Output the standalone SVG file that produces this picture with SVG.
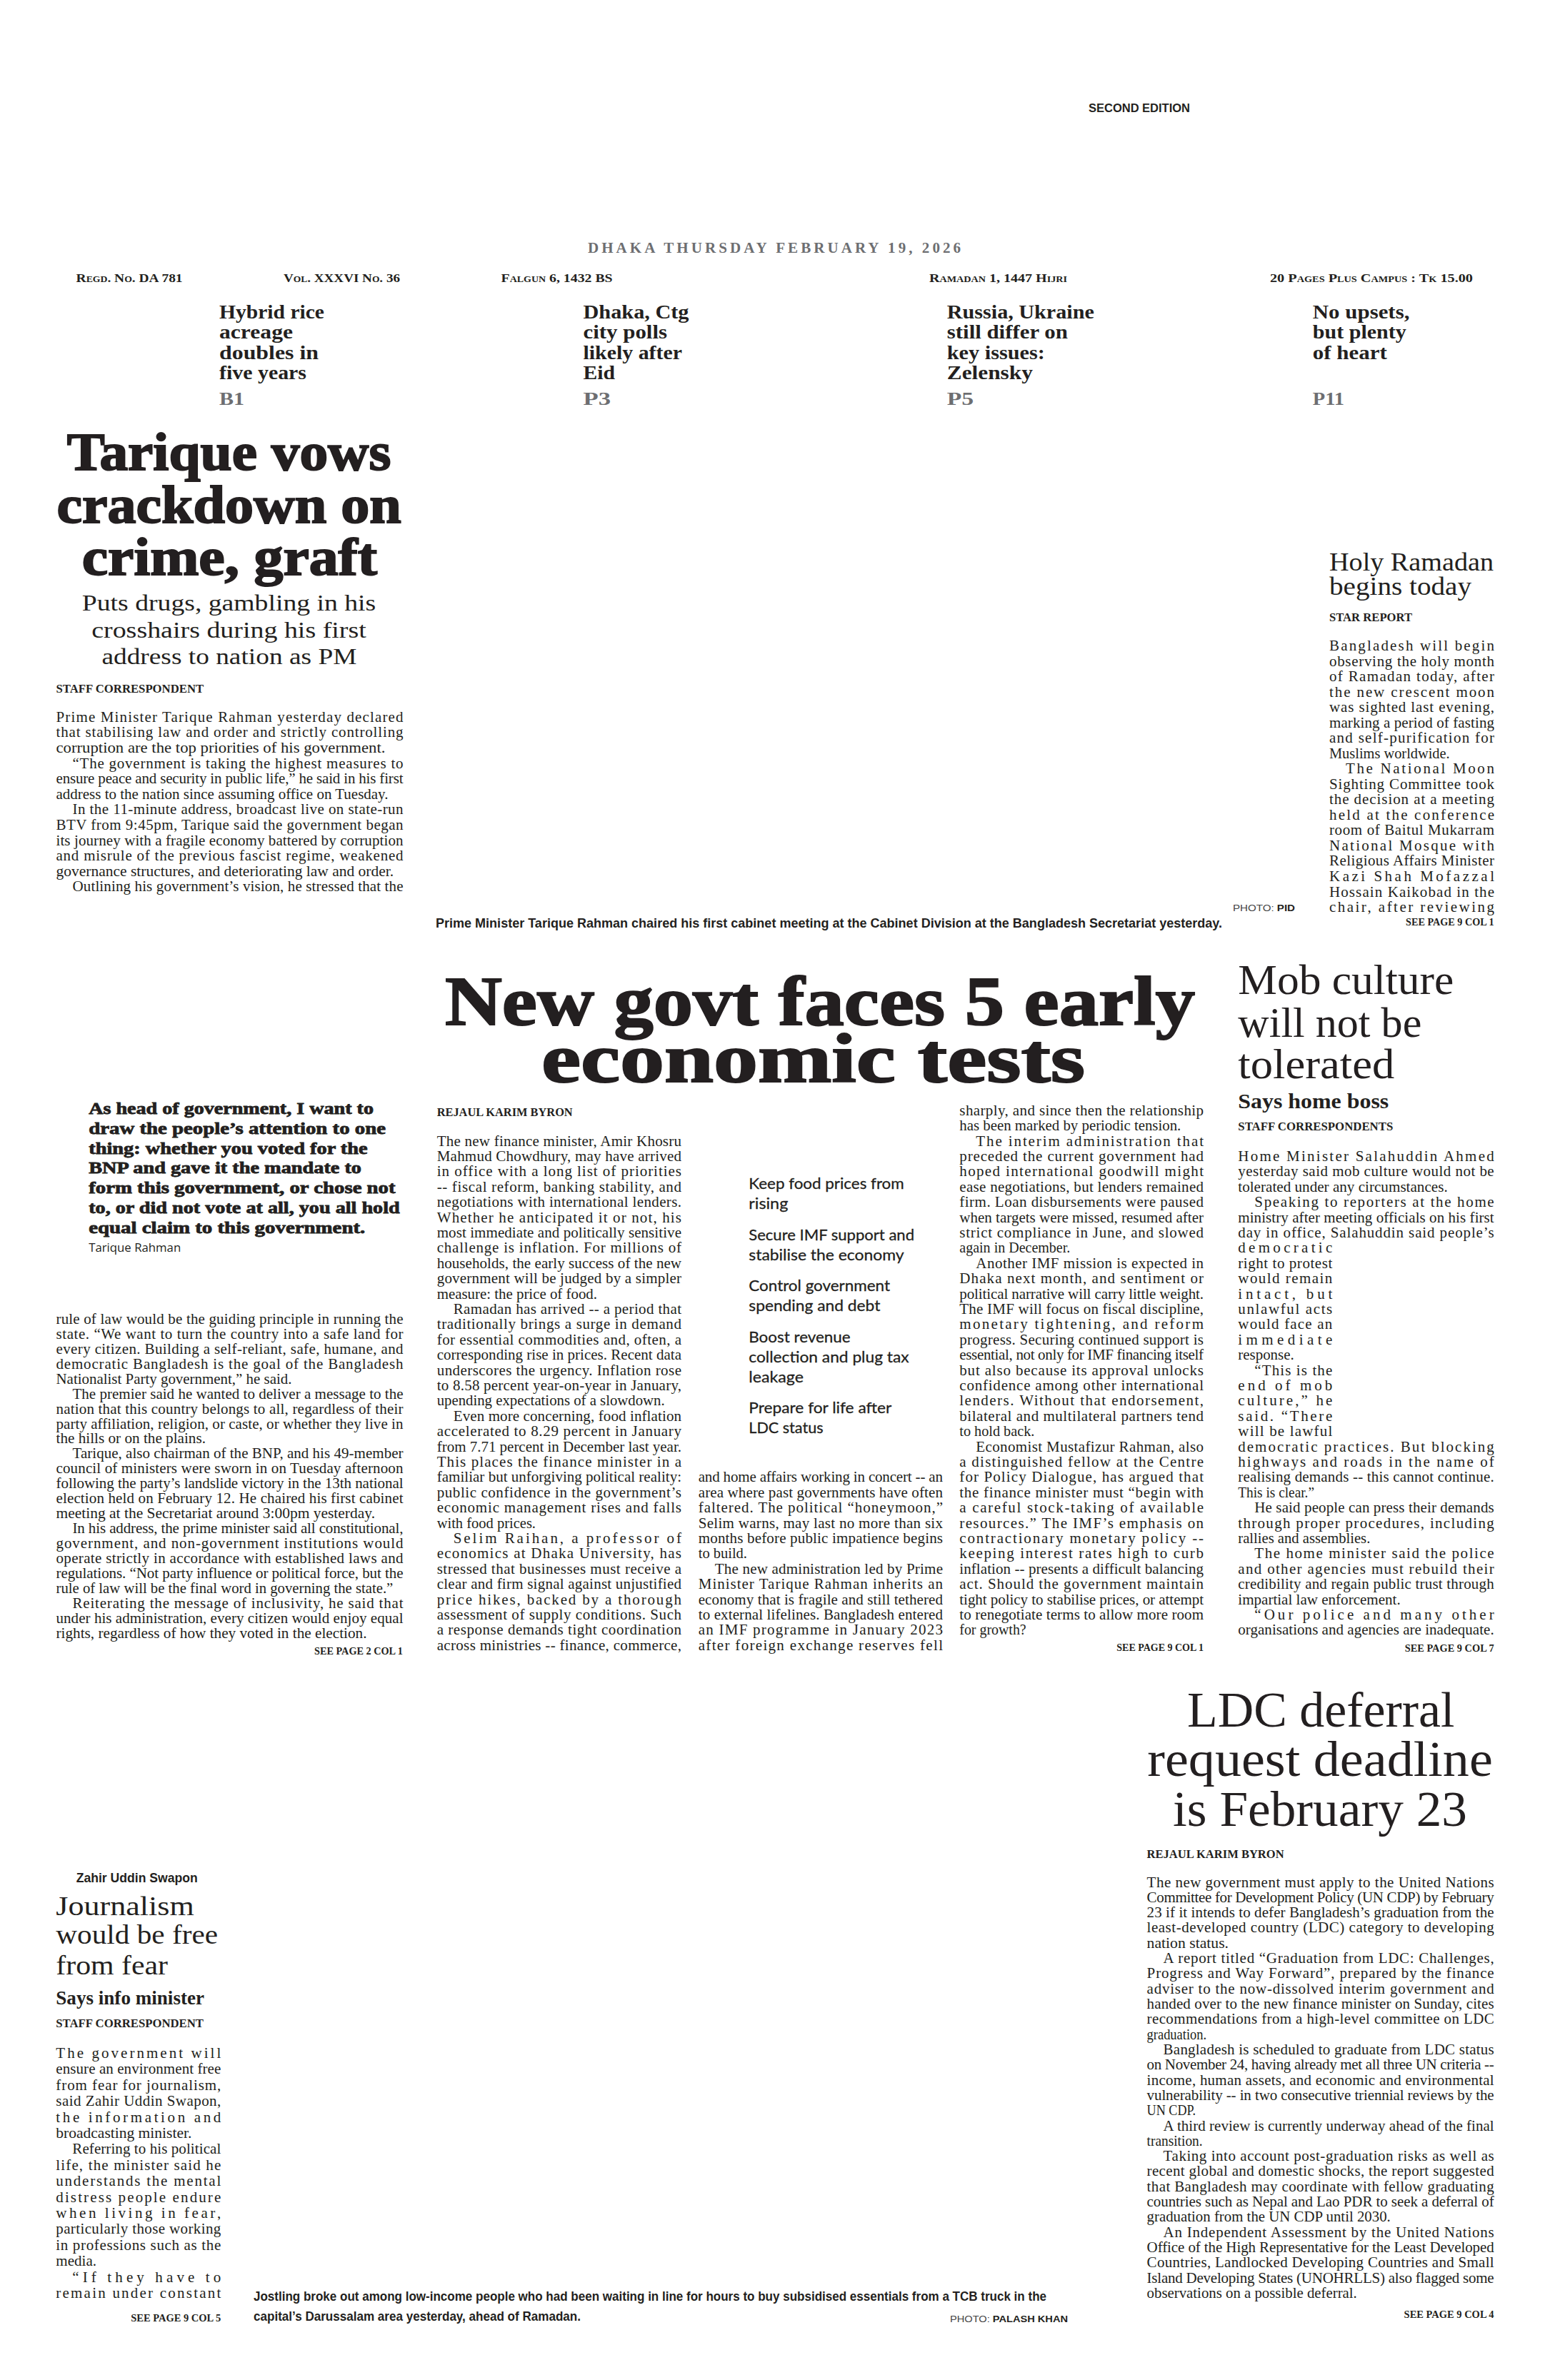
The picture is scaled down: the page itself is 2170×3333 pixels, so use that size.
<svg xmlns="http://www.w3.org/2000/svg" width="2170" height="3333" viewBox="0 0 2170 3333">
<style>
text{fill:#231f20}
.b{font-family:"Liberation Serif",serif;font-size:21px}
.by{font-family:"Liberation Serif",serif;font-weight:bold;font-size:16px}
.sp{font-family:"Liberation Serif",serif;font-weight:bold;font-size:15px}
.hh{font-family:"Liberation Serif",serif;font-weight:bold;stroke:#231f20;stroke-width:2}
.hl{font-family:"Liberation Serif",serif}
.hb{font-family:"Liberation Serif",serif;font-weight:bold}
.cap{font-family:"Liberation Sans",sans-serif;font-weight:bold;font-size:19px}
.ear{font-family:"Liberation Serif",serif;font-weight:bold;font-size:17px;font-variant:small-caps}
.tz{font-family:"Liberation Serif",serif;font-weight:bold;font-size:28px}
.pg{font-family:"Liberation Serif",serif;font-weight:bold;font-size:26px;fill:#6d6e71}
.bul{font-family:Lato,"Liberation Sans",sans-serif;font-size:22px;stroke:#231f20;stroke-width:0.3}
.q{font-family:"Liberation Serif",serif;font-weight:bold;font-size:23px;stroke:#231f20;stroke-width:0.8}
.cr{font-family:"Liberation Sans",sans-serif;font-size:13px;fill:#444}
</style>
<rect width="2170" height="3333" fill="#ffffff"/>

<g id="masthead">
<text x="1524" y="157" font-family="Liberation Sans" font-weight="bold" font-size="16" textLength="142" lengthAdjust="spacingAndGlyphs">SECOND EDITION</text>
<text x="823" y="354" font-family="Liberation Serif" font-weight="bold" font-size="21" style="fill:#6d6e71" textLength="522">DHAKA THURSDAY FEBRUARY 19, 2026</text>
<text class="ear" x="106.6" y="395" textLength="149" lengthAdjust="spacingAndGlyphs">Regd. No. DA 781</text>
<text class="ear" x="397" y="395" textLength="163" lengthAdjust="spacingAndGlyphs">Vol. XXXVI No. 36</text>
<text class="ear" x="701.6" y="395" textLength="156" lengthAdjust="spacingAndGlyphs">Falgun 6, 1432 BS</text>
<text class="ear" x="1301" y="395" textLength="193" lengthAdjust="spacingAndGlyphs">Ramadan 1, 1447 Hijri</text>
<text class="ear" x="1778" y="395" textLength="284" lengthAdjust="spacingAndGlyphs">20 Pages Plus Campus : Tk 15.00</text>
</g>

<g id="teaser-hybrid-rice">
<text class="tz" x="307" y="446" textLength="147" lengthAdjust="spacingAndGlyphs">Hybrid rice</text>
<text class="tz" x="307" y="474.3" textLength="103" lengthAdjust="spacingAndGlyphs">acreage</text>
<text class="tz" x="307" y="502.6" textLength="139" lengthAdjust="spacingAndGlyphs">doubles in</text>
<text class="tz" x="307" y="531" textLength="122" lengthAdjust="spacingAndGlyphs">five years</text>
<text class="pg" x="307" y="566.7" textLength="35" lengthAdjust="spacingAndGlyphs">B1</text>
</g>
<g id="teaser-city-polls">
<text class="tz" x="816.5" y="446" textLength="148" lengthAdjust="spacingAndGlyphs">Dhaka, Ctg</text>
<text class="tz" x="816.5" y="474.3" textLength="117.5" lengthAdjust="spacingAndGlyphs">city polls</text>
<text class="tz" x="816.5" y="502.6" textLength="138.5" lengthAdjust="spacingAndGlyphs">likely after</text>
<text class="tz" x="816.5" y="531" textLength="44.5" lengthAdjust="spacingAndGlyphs">Eid</text>
<text class="pg" x="816.5" y="566.7" textLength="38.5" lengthAdjust="spacingAndGlyphs">P3</text>
</g>
<g id="teaser-russia-ukraine">
<text class="tz" x="1325.8" y="446" textLength="206" lengthAdjust="spacingAndGlyphs">Russia, Ukraine</text>
<text class="tz" x="1325.8" y="474.3" textLength="169" lengthAdjust="spacingAndGlyphs">still differ on</text>
<text class="tz" x="1325.8" y="502.6" textLength="137" lengthAdjust="spacingAndGlyphs">key issues:</text>
<text class="tz" x="1325.8" y="531" textLength="120" lengthAdjust="spacingAndGlyphs">Zelensky</text>
<text class="pg" x="1325.8" y="566.7" textLength="37.4" lengthAdjust="spacingAndGlyphs">P5</text>
</g>
<g id="teaser-no-upsets">
<text class="tz" x="1837.8" y="446" textLength="135.6" lengthAdjust="spacingAndGlyphs">No upsets,</text>
<text class="tz" x="1837.8" y="474.3" textLength="131" lengthAdjust="spacingAndGlyphs">but plenty</text>
<text class="tz" x="1837.8" y="502.6" textLength="104" lengthAdjust="spacingAndGlyphs">of heart</text>
<text class="pg" x="1837.8" y="566.7" textLength="44.3" lengthAdjust="spacingAndGlyphs">P11</text>
</g>

<g id="lead-story">
<text class="hh" font-size="74" x="93.8" y="658" textLength="453.5" lengthAdjust="spacingAndGlyphs">Tarique vows</text>
<text class="hh" font-size="74" x="79.6" y="732" textLength="482.2" lengthAdjust="spacingAndGlyphs">crackdown on</text>
<text class="hh" font-size="74" x="114.8" y="805" textLength="413.3" lengthAdjust="spacingAndGlyphs">crime, graft</text>
<text class="hl" font-size="31" x="114.8" y="854.5" textLength="411.4" lengthAdjust="spacingAndGlyphs">Puts drugs, gambling in his</text>
<text class="hl" font-size="31" x="128.2" y="892.5" textLength="384.6" lengthAdjust="spacingAndGlyphs">crosshairs during his first</text>
<text class="hl" font-size="31" x="142.4" y="930" textLength="357" lengthAdjust="spacingAndGlyphs">address to nation as PM</text>
<text class="by" x="78.5" y="969.7" textLength="206.6" lengthAdjust="spacingAndGlyphs">STAFF CORRESPONDENT</text>
<text class="b" x="78.5" y="1010.8" textLength="486">Prime Minister Tarique Rahman yesterday declared</text>
<text class="b" x="78.5" y="1032.4" textLength="486">that stabilising law and order and strictly controlling</text>
<text class="b" x="78.5" y="1054" textLength="461" lengthAdjust="spacingAndGlyphs">corruption are the top priorities of his government.</text>
<text class="b" x="101.5" y="1075.6" textLength="463">“The government is taking the highest measures to</text>
<text class="b" x="78.5" y="1097.2" textLength="486">ensure peace and security in public life,” he said in his first</text>
<text class="b" x="78.5" y="1118.8" textLength="465" lengthAdjust="spacingAndGlyphs">address to the nation since assuming office on Tuesday.</text>
<text class="b" x="101.5" y="1140.4" textLength="463">In the 11-minute address, broadcast live on state-run</text>
<text class="b" x="78.5" y="1162" textLength="486">BTV from 9:45pm, Tarique said the government began</text>
<text class="b" x="78.5" y="1183.6" textLength="486">its journey with a fragile economy battered by corruption</text>
<text class="b" x="78.5" y="1205.2" textLength="486">and misrule of the previous fascist regime, weakened</text>
<text class="b" x="78.5" y="1226.8" textLength="472.6" lengthAdjust="spacingAndGlyphs">governance structures, and deteriorating law and order.</text>
<text class="b" x="101.5" y="1248.4" textLength="463">Outlining his government’s vision, he stressed that the</text>
</g>

<g id="lead-quote">
<text class="q" x="124.2" y="1559.9" textLength="398.8" lengthAdjust="spacingAndGlyphs">As head of government, I want to</text>
<text class="q" x="124.2" y="1587.7" textLength="415.8" lengthAdjust="spacingAndGlyphs">draw the people’s attention to one</text>
<text class="q" x="124.2" y="1615.5" textLength="390.5" lengthAdjust="spacingAndGlyphs">thing: whether you voted for the</text>
<text class="q" x="124.2" y="1643.3" textLength="381.8" lengthAdjust="spacingAndGlyphs">BNP and gave it the mandate to</text>
<text class="q" x="124.2" y="1671.1" textLength="429.4" lengthAdjust="spacingAndGlyphs">form this government, or chose not</text>
<text class="q" x="124.2" y="1698.9" textLength="435.5" lengthAdjust="spacingAndGlyphs">to, or did not vote at all, you all hold</text>
<text class="q" x="124.2" y="1726.7" textLength="387.1" lengthAdjust="spacingAndGlyphs">equal claim to this government.</text>
<text x="124.2" y="1753" font-family="Open Sans" font-size="17" textLength="129" lengthAdjust="spacingAndGlyphs">Tarique Rahman</text>
</g>

<g id="lead-story-continued">
<text class="b" x="78.5" y="1854" textLength="486">rule of law would be the guiding principle in running the</text>
<text class="b" x="78.5" y="1874.9" textLength="486">state. “We want to turn the country into a safe land for</text>
<text class="b" x="78.5" y="1895.9" textLength="486">every citizen. Building a self-reliant, safe, humane, and</text>
<text class="b" x="78.5" y="1916.8" textLength="486">democratic Bangladesh is the goal of the Bangladesh</text>
<text class="b" x="78.5" y="1937.7" textLength="330" lengthAdjust="spacingAndGlyphs">Nationalist Party government,” he said.</text>
<text class="b" x="101.5" y="1958.7" textLength="463">The premier said he wanted to deliver a message to the</text>
<text class="b" x="78.5" y="1979.6" textLength="486">nation that this country belongs to all, regardless of their</text>
<text class="b" x="78.5" y="2000.5" textLength="486">party affiliation, religion, or caste, or whether they live in</text>
<text class="b" x="78.5" y="2021.4" textLength="209.5" lengthAdjust="spacingAndGlyphs">the hills or on the plains.</text>
<text class="b" x="101.5" y="2042.4" textLength="463">Tarique, also chairman of the BNP, and his 49-member</text>
<text class="b" x="78.5" y="2063.3" textLength="486">council of ministers were sworn in on Tuesday afternoon</text>
<text class="b" x="78.5" y="2084.2" textLength="486">following the party’s landslide victory in the 13th national</text>
<text class="b" x="78.5" y="2105.2" textLength="486">election held on February 12. He chaired his first cabinet</text>
<text class="b" x="78.5" y="2126.1" textLength="446.5" lengthAdjust="spacingAndGlyphs">meeting at the Secretariat around 3:00pm yesterday.</text>
<text class="b" x="101.5" y="2147" textLength="463">In his address, the prime minister said all constitutional,</text>
<text class="b" x="78.5" y="2167.9" textLength="486">government, and non-government institutions would</text>
<text class="b" x="78.5" y="2188.9" textLength="486">operate strictly in accordance with established laws and</text>
<text class="b" x="78.5" y="2209.8" textLength="486">regulations. “Not party influence or political force, but the</text>
<text class="b" x="78.5" y="2230.7" textLength="471.8" lengthAdjust="spacingAndGlyphs">rule of law will be the final word in governing the state.”</text>
<text class="b" x="101.5" y="2251.7" textLength="463">Reiterating the message of inclusivity, he said that</text>
<text class="b" x="78.5" y="2272.6" textLength="486">under his administration, every citizen would enjoy equal</text>
<text class="b" x="78.5" y="2293.5" textLength="435" lengthAdjust="spacingAndGlyphs">rights, regardless of how they voted in the election.</text>
<text class="sp" x="440" y="2317" textLength="124" lengthAdjust="spacingAndGlyphs">SEE PAGE 2 COL 1</text>
</g>

<g id="ramadan-story">
<text class="hl" font-size="35" x="1861" y="799.3" textLength="230" lengthAdjust="spacingAndGlyphs">Holy Ramadan</text>
<text class="hl" font-size="35" x="1861" y="832.6" textLength="199" lengthAdjust="spacingAndGlyphs">begins today</text>
<text class="by" x="1861" y="869.6" textLength="116" lengthAdjust="spacingAndGlyphs">STAR REPORT</text>
<text class="b" x="1861" y="911" textLength="231">Bangladesh will begin</text>
<text class="b" x="1861" y="932.5" textLength="231">observing the holy month</text>
<text class="b" x="1861" y="954.1" textLength="231">of Ramadan today, after</text>
<text class="b" x="1861" y="975.6" textLength="231">the new crescent moon</text>
<text class="b" x="1861" y="997.1" textLength="231">was sighted last evening,</text>
<text class="b" x="1861" y="1018.7" textLength="231">marking a period of fasting</text>
<text class="b" x="1861" y="1040.2" textLength="231">and self-purification for</text>
<text class="b" x="1861" y="1061.7" textLength="168.7" lengthAdjust="spacingAndGlyphs">Muslims worldwide.</text>
<text class="b" x="1884" y="1083.2" textLength="208">The National Moon</text>
<text class="b" x="1861" y="1104.8" textLength="231">Sighting Committee took</text>
<text class="b" x="1861" y="1126.3" textLength="231">the decision at a meeting</text>
<text class="b" x="1861" y="1147.8" textLength="231">held at the conference</text>
<text class="b" x="1861" y="1169.4" textLength="231">room of Baitul Mukarram</text>
<text class="b" x="1861" y="1190.9" textLength="231">National Mosque with</text>
<text class="b" x="1861" y="1212.4" textLength="231">Religious Affairs Minister</text>
<text class="b" x="1861" y="1234" textLength="231">Kazi Shah Mofazzal</text>
<text class="b" x="1861" y="1255.5" textLength="231">Hossain Kaikobad in the</text>
<text class="b" x="1861" y="1277" textLength="231">chair, after reviewing</text>
<text class="sp" x="1968" y="1295.6" textLength="123.7" lengthAdjust="spacingAndGlyphs">SEE PAGE 9 COL 1</text>
</g>

<g id="cabinet-photo-caption">
<text class="cr" x="1726" y="1276" textLength="87" lengthAdjust="spacingAndGlyphs">PHOTO: <tspan font-weight="bold" style="fill:#231f20">PID</tspan></text>
<text class="cap" x="610" y="1299" textLength="1101" lengthAdjust="spacingAndGlyphs">Prime Minister Tarique Rahman chaired his first cabinet meeting at the Cabinet Division at the Bangladesh Secretariat yesterday.</text>
</g>

<g id="economy-story">
<text class="hh" font-size="98" x="623" y="1435" textLength="1050" lengthAdjust="spacingAndGlyphs">New govt faces 5 early</text>
<text class="hh" font-size="98" x="758" y="1515" textLength="761" lengthAdjust="spacingAndGlyphs">economic tests</text>
<text class="by" x="611.7" y="1562.7" textLength="190" lengthAdjust="spacingAndGlyphs">REJAUL KARIM BYRON</text>
<text class="b" x="611.7" y="1604.5" textLength="342.3">The new finance minister, Amir Khosru</text>
<text class="b" x="611.7" y="1625.9" textLength="342.3">Mahmud Chowdhury, may have arrived</text>
<text class="b" x="611.7" y="1647.3" textLength="342.3">in office with a long list of priorities</text>
<text class="b" x="611.7" y="1668.7" textLength="342.3">-- fiscal reform, banking stability, and</text>
<text class="b" x="611.7" y="1690.1" textLength="342.3">negotiations with international lenders.</text>
<text class="b" x="611.7" y="1711.5" textLength="342.3">Whether he anticipated it or not, his</text>
<text class="b" x="611.7" y="1732.9" textLength="342.3">most immediate and politically sensitive</text>
<text class="b" x="611.7" y="1754.3" textLength="342.3">challenge is inflation. For millions of</text>
<text class="b" x="611.7" y="1775.7" textLength="342.3">households, the early success of the new</text>
<text class="b" x="611.7" y="1797.1" textLength="342.3">government will be judged by a simpler</text>
<text class="b" x="611.7" y="1818.5" textLength="224.3" lengthAdjust="spacingAndGlyphs">measure: the price of food.</text>
<text class="b" x="634.7" y="1839.9" textLength="319.3">Ramadan has arrived -- a period that</text>
<text class="b" x="611.7" y="1861.3" textLength="342.3">traditionally brings a surge in demand</text>
<text class="b" x="611.7" y="1882.7" textLength="342.3">for essential commodities and, often, a</text>
<text class="b" x="611.7" y="1904.1" textLength="342.3">corresponding rise in prices. Recent data</text>
<text class="b" x="611.7" y="1925.5" textLength="342.3">underscores the urgency. Inflation rose</text>
<text class="b" x="611.7" y="1946.9" textLength="342.3">to 8.58 percent year-on-year in January,</text>
<text class="b" x="611.7" y="1968.3" textLength="319" lengthAdjust="spacingAndGlyphs">upending expectations of a slowdown.</text>
<text class="b" x="634.7" y="1989.7" textLength="319.3">Even more concerning, food inflation</text>
<text class="b" x="611.7" y="2011.1" textLength="342.3">accelerated to 8.29 percent in January</text>
<text class="b" x="611.7" y="2032.5" textLength="342.3">from 7.71 percent in December last year.</text>
<text class="b" x="611.7" y="2053.9" textLength="342.3">This places the finance minister in a</text>
<text class="b" x="611.7" y="2075.3" textLength="342.3">familiar but unforgiving political reality:</text>
<text class="b" x="611.7" y="2096.7" textLength="342.3">public confidence in the government’s</text>
<text class="b" x="611.7" y="2118.1" textLength="342.3">economic management rises and falls</text>
<text class="b" x="611.7" y="2139.5" textLength="138.3" lengthAdjust="spacingAndGlyphs">with food prices.</text>
<text class="b" x="634.7" y="2160.9" textLength="319.3">Selim Raihan, a professor of</text>
<text class="b" x="611.7" y="2182.3" textLength="342.3">economics at Dhaka University, has</text>
<text class="b" x="611.7" y="2203.7" textLength="342.3">stressed that businesses must receive a</text>
<text class="b" x="611.7" y="2225.1" textLength="342.3">clear and firm signal against unjustified</text>
<text class="b" x="611.7" y="2246.5" textLength="342.3">price hikes, backed by a thorough</text>
<text class="b" x="611.7" y="2267.9" textLength="342.3">assessment of supply conditions. Such</text>
<text class="b" x="611.7" y="2289.3" textLength="342.3">a response demands tight coordination</text>
<text class="b" x="611.7" y="2310.7" textLength="342.3">across ministries -- finance, commerce,</text>

<text class="b" x="977.7" y="2075.3" textLength="342.3">and home affairs working in concert -- an</text>
<text class="b" x="977.7" y="2096.7" textLength="342.3">area where past governments have often</text>
<text class="b" x="977.7" y="2118.1" textLength="342.3">faltered. The political “honeymoon,”</text>
<text class="b" x="977.7" y="2139.5" textLength="342.3">Selim warns, may last no more than six</text>
<text class="b" x="977.7" y="2160.9" textLength="342.3">months before public impatience begins</text>
<text class="b" x="977.7" y="2182.3" textLength="68.3" lengthAdjust="spacingAndGlyphs">to build.</text>
<text class="b" x="1000.7" y="2203.7" textLength="319.3">The new administration led by Prime</text>
<text class="b" x="977.7" y="2225.1" textLength="342.3">Minister Tarique Rahman inherits an</text>
<text class="b" x="977.7" y="2246.5" textLength="342.3">economy that is fragile and still tethered</text>
<text class="b" x="977.7" y="2267.9" textLength="342.3">to external lifelines. Bangladesh entered</text>
<text class="b" x="977.7" y="2289.3" textLength="342.3">an IMF programme in January 2023</text>
<text class="b" x="977.7" y="2310.7" textLength="342.3">after foreign exchange reserves fell</text>

<text class="b" x="1343.3" y="1561.7" textLength="341.7">sharply, and since then the relationship</text>
<text class="b" x="1343.3" y="1583.1" textLength="310" lengthAdjust="spacingAndGlyphs">has been marked by periodic tension.</text>
<text class="b" x="1366.3" y="1604.5" textLength="318.7">The interim administration that</text>
<text class="b" x="1343.3" y="1625.9" textLength="341.7">preceded the current government had</text>
<text class="b" x="1343.3" y="1647.3" textLength="341.7">hoped international goodwill might</text>
<text class="b" x="1343.3" y="1668.7" textLength="341.7">ease negotiations, but lenders remained</text>
<text class="b" x="1343.3" y="1690.1" textLength="341.7">firm. Loan disbursements were paused</text>
<text class="b" x="1343.3" y="1711.5" textLength="341.7">when targets were missed, resumed after</text>
<text class="b" x="1343.3" y="1732.9" textLength="341.7">strict compliance in June, and slowed</text>
<text class="b" x="1343.3" y="1754.3" textLength="155" lengthAdjust="spacingAndGlyphs">again in December.</text>
<text class="b" x="1366.3" y="1775.7" textLength="318.7">Another IMF mission is expected in</text>
<text class="b" x="1343.3" y="1797.1" textLength="341.7">Dhaka next month, and sentiment or</text>
<text class="b" x="1343.3" y="1818.5" textLength="341.7">political narrative will carry little weight.</text>
<text class="b" x="1343.3" y="1839.9" textLength="341.7">The IMF will focus on fiscal discipline,</text>
<text class="b" x="1343.3" y="1861.3" textLength="341.7">monetary tightening, and reform</text>
<text class="b" x="1343.3" y="1882.7" textLength="341.7">progress. Securing continued support is</text>
<text class="b" x="1343.3" y="1904.1" textLength="341.7">essential, not only for IMF financing itself</text>
<text class="b" x="1343.3" y="1925.5" textLength="341.7">but also because its approval unlocks</text>
<text class="b" x="1343.3" y="1946.9" textLength="341.7">confidence among other international</text>
<text class="b" x="1343.3" y="1968.3" textLength="341.7">lenders. Without that endorsement,</text>
<text class="b" x="1343.3" y="1989.7" textLength="341.7">bilateral and multilateral partners tend</text>
<text class="b" x="1343.3" y="2011.1" textLength="105" lengthAdjust="spacingAndGlyphs">to hold back.</text>
<text class="b" x="1366.3" y="2032.5" textLength="318.7">Economist Mustafizur Rahman, also</text>
<text class="b" x="1343.3" y="2053.9" textLength="341.7">a distinguished fellow at the Centre</text>
<text class="b" x="1343.3" y="2075.3" textLength="341.7">for Policy Dialogue, has argued that</text>
<text class="b" x="1343.3" y="2096.7" textLength="341.7">the finance minister must “begin with</text>
<text class="b" x="1343.3" y="2118.1" textLength="341.7">a careful stock-taking of available</text>
<text class="b" x="1343.3" y="2139.5" textLength="341.7">resources.” The IMF’s emphasis on</text>
<text class="b" x="1343.3" y="2160.9" textLength="341.7">contractionary monetary policy --</text>
<text class="b" x="1343.3" y="2182.3" textLength="341.7">keeping interest rates high to curb</text>
<text class="b" x="1343.3" y="2203.7" textLength="341.7">inflation -- presents a difficult balancing</text>
<text class="b" x="1343.3" y="2225.1" textLength="341.7">act. Should the government maintain</text>
<text class="b" x="1343.3" y="2246.5" textLength="341.7">tight policy to stabilise prices, or attempt</text>
<text class="b" x="1343.3" y="2267.9" textLength="341.7">to renegotiate terms to allow more room</text>
<text class="b" x="1343.3" y="2289.3" textLength="93.4" lengthAdjust="spacingAndGlyphs">for growth?</text>
<text class="sp" x="1563.3" y="2312" textLength="121.7" lengthAdjust="spacingAndGlyphs">SEE PAGE 9 COL 1</text>
</g>

<g id="five-tests-list">
<text class="bul" x="1048.3" y="1665.2" textLength="217.4" lengthAdjust="spacingAndGlyphs">Keep food prices from</text>
<text class="bul" x="1048.3" y="1693.3" textLength="55" lengthAdjust="spacingAndGlyphs">rising</text>
<text class="bul" x="1048.3" y="1736.6" textLength="231.7" lengthAdjust="spacingAndGlyphs">Secure IMF support and</text>
<text class="bul" x="1048.3" y="1764.7" textLength="217.3" lengthAdjust="spacingAndGlyphs">stabilise the economy</text>
<text class="bul" x="1048.3" y="1808" textLength="197.7" lengthAdjust="spacingAndGlyphs">Control government</text>
<text class="bul" x="1048.3" y="1836" textLength="184" lengthAdjust="spacingAndGlyphs">spending and debt</text>
<text class="bul" x="1048.3" y="1879.5" textLength="142.3" lengthAdjust="spacingAndGlyphs">Boost revenue</text>
<text class="bul" x="1048.3" y="1907.6" textLength="224.3" lengthAdjust="spacingAndGlyphs">collection and plug tax</text>
<text class="bul" x="1048.3" y="1935.6" textLength="76.7" lengthAdjust="spacingAndGlyphs">leakage</text>
<text class="bul" x="1048.3" y="1979" textLength="200" lengthAdjust="spacingAndGlyphs">Prepare for life after</text>
<text class="bul" x="1048.3" y="2007" textLength="104.3" lengthAdjust="spacingAndGlyphs">LDC status</text>
</g>

<g id="mob-culture-story">
<text class="hl" font-size="60" x="1733.3" y="1392" textLength="302" lengthAdjust="spacingAndGlyphs">Mob culture</text>
<text class="hl" font-size="60" x="1733.3" y="1452" textLength="257" lengthAdjust="spacingAndGlyphs">will not be</text>
<text class="hl" font-size="60" x="1733.3" y="1510" textLength="219" lengthAdjust="spacingAndGlyphs">tolerated</text>
<text class="hb" font-size="30" x="1733.3" y="1552" textLength="211" lengthAdjust="spacingAndGlyphs">Says home boss</text>
<text class="by" x="1733.3" y="1582.8" textLength="217" lengthAdjust="spacingAndGlyphs">STAFF CORRESPONDENTS</text>
<text class="b" x="1733.3" y="1625.9" textLength="358.4">Home Minister Salahuddin Ahmed</text>
<text class="b" x="1733.3" y="1647.3" textLength="358.4">yesterday said mob culture would not be</text>
<text class="b" x="1733.3" y="1668.7" textLength="293.4" lengthAdjust="spacingAndGlyphs">tolerated under any circumstances.</text>
<text class="b" x="1756.3" y="1690.1" textLength="335.4">Speaking to reporters at the home</text>
<text class="b" x="1733.3" y="1711.5" textLength="358.4">ministry after meeting officials on his first</text>
<text class="b" x="1733.3" y="1732.9" textLength="358.4">day in office, Salahuddin said people’s</text>
<text class="b" x="1733.3" y="1754.3" textLength="132">democratic</text>
<text class="b" x="1733.3" y="1775.7" textLength="132">right to protest</text>
<text class="b" x="1733.3" y="1797.1" textLength="132">would remain</text>
<text class="b" x="1733.3" y="1818.5" textLength="132">intact, but</text>
<text class="b" x="1733.3" y="1839.9" textLength="132">unlawful acts</text>
<text class="b" x="1733.3" y="1861.3" textLength="132">would face an</text>
<text class="b" x="1733.3" y="1882.7" textLength="132">immediate</text>
<text class="b" x="1733.3" y="1904.1" textLength="78.4" lengthAdjust="spacingAndGlyphs">response.</text>
<text class="b" x="1756.3" y="1925.5" textLength="109">“This is the</text>
<text class="b" x="1733.3" y="1946.9" textLength="132">end of mob</text>
<text class="b" x="1733.3" y="1968.3" textLength="132">culture,” he</text>
<text class="b" x="1733.3" y="1989.7" textLength="132">said. “There</text>
<text class="b" x="1733.3" y="2011.1" textLength="132">will be lawful</text>
<text class="b" x="1733.3" y="2032.5" textLength="358.4">democratic practices. But blocking</text>
<text class="b" x="1733.3" y="2053.9" textLength="358.4">highways and roads in the name of</text>
<text class="b" x="1733.3" y="2075.3" textLength="358.4">realising demands -- this cannot continue.</text>
<text class="b" x="1733.3" y="2096.7" textLength="106.7" lengthAdjust="spacingAndGlyphs">This is clear.”</text>
<text class="b" x="1756.3" y="2118.1" textLength="335.4">He said people can press their demands</text>
<text class="b" x="1733.3" y="2139.5" textLength="358.4">through proper procedures, including</text>
<text class="b" x="1733.3" y="2160.9" textLength="185" lengthAdjust="spacingAndGlyphs">rallies and assemblies.</text>
<text class="b" x="1756.3" y="2182.3" textLength="335.4">The home minister said the police</text>
<text class="b" x="1733.3" y="2203.7" textLength="358.4">and other agencies must rebuild their</text>
<text class="b" x="1733.3" y="2225.1" textLength="358.4">credibility and regain public trust through</text>
<text class="b" x="1733.3" y="2246.5" textLength="227.4" lengthAdjust="spacingAndGlyphs">impartial law enforcement.</text>
<text class="b" x="1756.3" y="2267.9" textLength="335.4">“Our police and many other</text>
<text class="b" x="1733.3" y="2289.3" textLength="358.4">organisations and agencies are inadequate.</text>
<text class="sp" x="1966.7" y="2313" textLength="125" lengthAdjust="spacingAndGlyphs">SEE PAGE 9 COL 7</text>
</g>

<g id="ldc-story">
<text class="hl" font-size="70" x="1662" y="2418.3" textLength="374.4" lengthAdjust="spacingAndGlyphs">LDC deferral</text>
<text class="hl" font-size="70" x="1606.3" y="2487.1" textLength="483.5" lengthAdjust="spacingAndGlyphs">request deadline</text>
<text class="hl" font-size="70" x="1642" y="2556.5" textLength="412" lengthAdjust="spacingAndGlyphs">is February 23</text>
<text class="by" x="1605.6" y="2602.2" textLength="192" lengthAdjust="spacingAndGlyphs">REJAUL KARIM BYRON</text>
<text class="b" x="1605.6" y="2642.5" textLength="486.1">The new government must apply to the United Nations</text>
<text class="b" x="1605.6" y="2663.8" textLength="486.1">Committee for Development Policy (UN CDP) by February</text>
<text class="b" x="1605.6" y="2685.1" textLength="486.1">23 if it intends to defer Bangladesh’s graduation from the</text>
<text class="b" x="1605.6" y="2706.4" textLength="486.1">least-developed country (LDC) category to developing</text>
<text class="b" x="1605.6" y="2727.7" textLength="114.4" lengthAdjust="spacingAndGlyphs">nation status.</text>
<text class="b" x="1628.6" y="2749.1" textLength="463.1">A report titled “Graduation from LDC: Challenges,</text>
<text class="b" x="1605.6" y="2770.4" textLength="486.1">Progress and Way Forward”, prepared by the finance</text>
<text class="b" x="1605.6" y="2791.7" textLength="486.1">adviser to the now-dissolved interim government and</text>
<text class="b" x="1605.6" y="2813" textLength="486.1">handed over to the new finance minister on Sunday, cites</text>
<text class="b" x="1605.6" y="2834.3" textLength="486.1">recommendations from a high-level committee on LDC</text>
<text class="b" x="1605.6" y="2855.6" textLength="83.5" lengthAdjust="spacingAndGlyphs">graduation.</text>
<text class="b" x="1628.6" y="2876.9" textLength="463.1">Bangladesh is scheduled to graduate from LDC status</text>
<text class="b" x="1605.6" y="2898.2" textLength="486.1">on November 24, having already met all three UN criteria --</text>
<text class="b" x="1605.6" y="2919.5" textLength="486.1">income, human assets, and economic and environmental</text>
<text class="b" x="1605.6" y="2940.8" textLength="486.1">vulnerability -- in two consecutive triennial reviews by the</text>
<text class="b" x="1605.6" y="2962.2" textLength="68.5" lengthAdjust="spacingAndGlyphs">UN CDP.</text>
<text class="b" x="1628.6" y="2983.5" textLength="463.1">A third review is currently underway ahead of the final</text>
<text class="b" x="1605.6" y="3004.8" textLength="78" lengthAdjust="spacingAndGlyphs">transition.</text>
<text class="b" x="1628.6" y="3026.1" textLength="463.1">Taking into account post-graduation risks as well as</text>
<text class="b" x="1605.6" y="3047.4" textLength="486.1">recent global and domestic shocks, the report suggested</text>
<text class="b" x="1605.6" y="3068.7" textLength="486.1">that Bangladesh may coordinate with fellow graduating</text>
<text class="b" x="1605.6" y="3090" textLength="486.1">countries such as Nepal and Lao PDR to seek a deferral of</text>
<text class="b" x="1605.6" y="3111.3" textLength="341.2" lengthAdjust="spacingAndGlyphs">graduation from the UN CDP until 2030.</text>
<text class="b" x="1628.6" y="3132.6" textLength="463.1">An Independent Assessment by the United Nations</text>
<text class="b" x="1605.6" y="3153.9" textLength="486.1">Office of the High Representative for the Least Developed</text>
<text class="b" x="1605.6" y="3175.3" textLength="486.1">Countries, Landlocked Developing Countries and Small</text>
<text class="b" x="1605.6" y="3196.6" textLength="486.1">Island Developing States (UNOHRLLS) also flagged some</text>
<text class="b" x="1605.6" y="3217.9" textLength="294.2" lengthAdjust="spacingAndGlyphs">observations on a possible deferral.</text>
<text class="sp" x="1965.6" y="3246.3" textLength="126" lengthAdjust="spacingAndGlyphs">SEE PAGE 9 COL 4</text>
</g>

<g id="journalism-story">
<text x="106.7" y="2635.6" font-family="Liberation Sans" font-weight="bold" font-size="19" textLength="170" lengthAdjust="spacingAndGlyphs">Zahir Uddin Swapon</text>
<text class="hl" font-size="38" x="78.3" y="2682.4" textLength="193.4" lengthAdjust="spacingAndGlyphs">Journalism</text>
<text class="hl" font-size="38" x="78.3" y="2722.3" textLength="226.7" lengthAdjust="spacingAndGlyphs">would be free</text>
<text class="hl" font-size="38" x="78.3" y="2764.8" textLength="156.7" lengthAdjust="spacingAndGlyphs">from fear</text>
<text class="hb" font-size="27" x="78.3" y="2807.3" textLength="207.7" lengthAdjust="spacingAndGlyphs">Says info minister</text>
<text class="by" x="78.3" y="2839.4" textLength="206.7" lengthAdjust="spacingAndGlyphs">STAFF CORRESPONDENT</text>
<text class="b" x="78.3" y="2881.9" textLength="231">The government will</text>
<text class="b" x="78.3" y="2904.3" textLength="231">ensure an environment free</text>
<text class="b" x="78.3" y="2926.7" textLength="231">from fear for journalism,</text>
<text class="b" x="78.3" y="2949.1" textLength="231">said Zahir Uddin Swapon,</text>
<text class="b" x="78.3" y="2971.5" textLength="231">the information and</text>
<text class="b" x="78.3" y="2993.9" textLength="190" lengthAdjust="spacingAndGlyphs">broadcasting minister.</text>
<text class="b" x="101.3" y="3016.3" textLength="208">Referring to his political</text>
<text class="b" x="78.3" y="3038.7" textLength="231">life, the minister said he</text>
<text class="b" x="78.3" y="3061.1" textLength="231">understands the mental</text>
<text class="b" x="78.3" y="3083.5" textLength="231">distress people endure</text>
<text class="b" x="78.3" y="3105.9" textLength="231">when living in fear,</text>
<text class="b" x="78.3" y="3128.3" textLength="231">particularly those working</text>
<text class="b" x="78.3" y="3150.7" textLength="231">in professions such as the</text>
<text class="b" x="78.3" y="3173.1" textLength="56.7" lengthAdjust="spacingAndGlyphs">media.</text>
<text class="b" x="101.3" y="3195.5" textLength="208">“If they have to</text>
<text class="b" x="78.3" y="3217.9" textLength="231">remain under constant</text>
<text class="sp" x="183.3" y="3250.5" textLength="126" lengthAdjust="spacingAndGlyphs">SEE PAGE 9 COL 5</text>
</g>

<g id="tcb-photo-caption">
<text class="cap" x="355" y="3222" textLength="1110" lengthAdjust="spacingAndGlyphs">Jostling broke out among low-income people who had been waiting in line for hours to buy subsidised essentials from a TCB truck in the</text>
<text class="cap" x="355" y="3250" textLength="458" lengthAdjust="spacingAndGlyphs">capital’s Darussalam area yesterday, ahead of Ramadan.</text>
<text class="cr" x="1330" y="3252" textLength="165" lengthAdjust="spacingAndGlyphs">PHOTO: <tspan font-weight="bold" style="fill:#231f20">PALASH KHAN</tspan></text>
</g>
</svg>
